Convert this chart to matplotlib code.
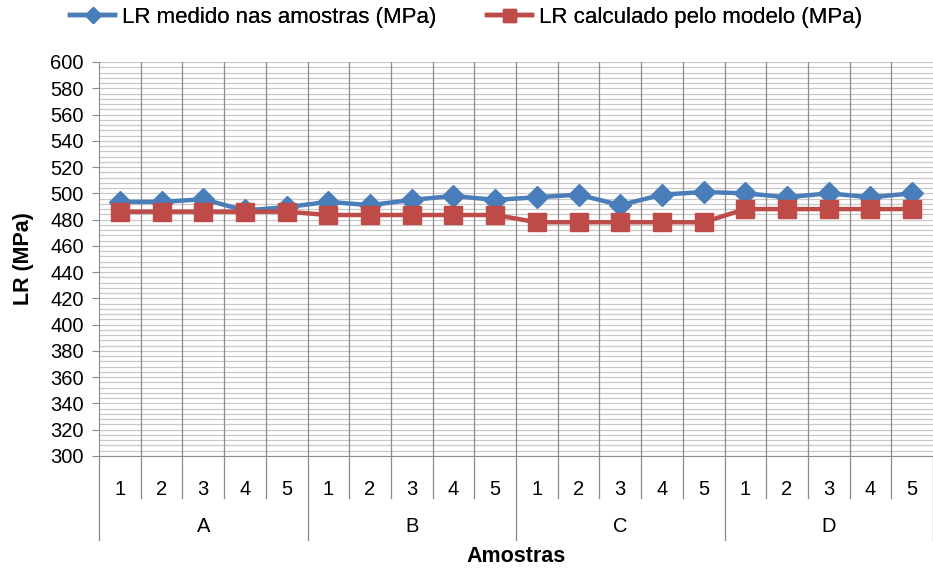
import matplotlib
matplotlib.use("Agg")
import matplotlib.pyplot as plt
import matplotlib.transforms as mtransforms
import numpy as np

plt.rcParams['font.family'] = ['Liberation Sans', 'DejaVu Sans']

groups = ["A", "B", "C", "D"]
samples = ["1", "2", "3", "4", "5"]
lr_medido = [493.5, 493.5, 495.5, 487, 489.5,
             493.5, 491, 495, 498, 495,
             497, 499, 491, 499, 501,
             500, 497, 500, 497, 500]
lr_modelo = [486, 486, 486, 486, 486,
             483.5, 483.5, 483.5, 483.5, 483.5,
             478, 478, 478, 478, 478,
             488, 488, 488, 488, 488]
y_ticks = list(range(300, 601, 20))

blue = "#4a7ebb"
red = "#be4b48"
grid_minor = "#c8c8c8"
grid_major = "#8c8c8c"

W, H = 933, 569
fig = plt.figure(figsize=(W / 100, H / 100), dpi=100)
ax = fig.add_axes([99 / W, 1 - 456 / H, 834 / W, 394 / H])

n = len(lr_medido)
x = np.arange(n)

ax.set_xlim(-0.5, n - 0.5)
ax.set_ylim(300, 600)

# horizontal gridlines every 4 MPa
for yv in np.arange(300, 601, 4):
    ax.axhline(yv, color=grid_minor, lw=0.9, zorder=0)
# vertical gridlines at category boundaries
for xv in np.arange(0.5, n - 0.5, 1):
    ax.axvline(xv, color=grid_major, lw=0.9, zorder=0)

l1, = ax.plot(x, lr_medido, color=blue, lw=3.2, marker="D", markersize=11,
              zorder=3, label="LR medido nas amostras (MPa)")
l2, = ax.plot(x, lr_modelo, color=red, lw=3.2, marker="s", markersize=13,
              zorder=4, label="LR calculado pelo modelo (MPa)")

for s in ["top", "right"]:
    ax.spines[s].set_visible(False)
ax.spines["left"].set_color(grid_major)
ax.spines["bottom"].set_color(grid_major)

tick_fs = 14.5
ax.set_yticks(y_ticks)
ax.set_yticklabels([str(v) for v in y_ticks], fontsize=tick_fs)
ax.tick_params(axis="y", length=5, color=grid_major, pad=6)

ax.set_xticks(x)
ax.set_xticklabels(samples * len(groups), fontsize=tick_fs)
ax.tick_params(axis="x", length=0, pad=17)

trans = mtransforms.blended_transform_factory(ax.transData, ax.transAxes)
ax_h_px = 394
short = -42 / ax_h_px
long = -84 / ax_h_px
for k in range(n + 1):
    xb = k - 0.5
    y_end = long if k % 5 == 0 else short
    ax.plot([xb, xb], [0, y_end], transform=trans, color=grid_major,
            lw=0.9, clip_on=False)
for gi, g in enumerate(groups):
    ax.text(gi * 5 + 2, -71 / ax_h_px, g, transform=trans, ha="center",
            va="center", fontsize=tick_fs)

ax.text(0.5, -100 / ax_h_px, "Amostras", transform=ax.transAxes, ha="center",
        va="center", fontsize=15.5, fontweight="bold")
fig.text(24 / W, 1 - 259 / H, "LR (MPa)", rotation=90, ha="center",
         va="center", fontsize=15.5, fontweight="bold")

leg_fs = 16
leg_px = leg_fs * 100 / 72
for handle, x0 in [(l1, 70), (l2, 487)]:
    leg = fig.legend(handles=[handle], loc="center left",
                     bbox_to_anchor=(x0 / W, 1 - 17 / H), frameon=False,
                     fontsize=leg_fs, handlelength=45 / leg_px,
                     handletextpad=0.3, borderpad=0, borderaxespad=0,
                     markerscale=0.72)
    fig.add_artist(leg)

fig.savefig("out.png", dpi=100)
